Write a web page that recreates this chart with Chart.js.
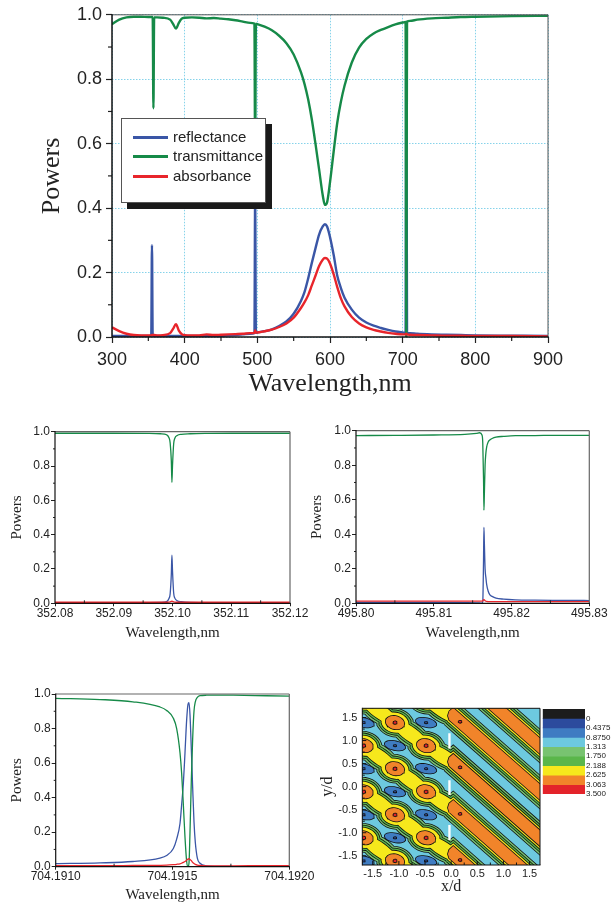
<!DOCTYPE html>
<html><head><meta charset="utf-8">
<script src="https://cdn.jsdelivr.net/npm/chart.js@4.4.1/dist/chart.umd.min.js"></script>
<style>
html,body{margin:0;padding:0;background:#fff;}
#wrap{position:relative;width:611px;height:905px;overflow:hidden;background:#fff;}
canvas{position:absolute;}
#lg{position:absolute;left:121px;top:118px;width:143px;height:83px;background:#fff;border:1px solid #555;box-shadow:6px 6px 0 #1a1a1a;font:15px 'Liberation Sans',Arial,sans-serif;color:#222;}
#lg .row{position:absolute;left:0;height:18px;line-height:18px;}
#lg .sw{position:absolute;left:11px;top:8px;width:35px;height:3px;}
#lg .tx{position:absolute;left:51px;top:0;white-space:nowrap;}
</style></head><body><div id="wrap">
<canvas id="cMain" style="left:0;top:0" width="611" height="400"></canvas>
<div id="lg"></div>
<canvas id="cP1" style="left:0;top:415px" width="320" height="230"></canvas>
<canvas id="cP2" style="left:300px;top:415px" width="311" height="230"></canvas>
<canvas id="cP3" style="left:0;top:680px" width="320" height="225"></canvas>
<canvas id="cCt" style="left:305px;top:680px" width="306" height="225"></canvas>
<canvas id="cCb" style="left:535px;top:700px" width="76" height="105"></canvas>
</div>
<script>
// ================= DATA =================
const seriesNames  = ['reflectance', 'transmittance', 'absorbance'];
const seriesColors = ['#3a56a6', '#168a48', '#e8252b'];

// --- main spectrum 300-900 nm ---
const mainWl = [300,310,320,330,340,350,354,355,356,357,358,362,370,380,384,388,392,396,400,410,420,430,440,450,460,470,480,490,496,497,498,500,510,520,530,540,550,560,565,570,575,580,585,590,593,596,600,605,610,615,620,630,640,650,660,670,680,690,700,704,705,706,710,720,740,760,780,800,850,900];
const mainRefl = [.003,.003,.003,.003,.003,.003,.003,.285,.003,.003,.003,.003,.003,.003,.003,.003,.003,.003,.003,.003,.003,.003,.003,.004,.005,.006,.008,.010,.012,.44,.013,.014,.018,.024,.034,.048,.072,.112,.14,.182,.23,.275,.318,.343,.35,.343,.31,.255,.19,.152,.122,.085,.06,.045,.035,.028,.022,.017,.014,.013,.95,.013,.012,.010,.008,.007,.006,.005,.004,.003];
const mainTrans = [.971,.985,.992,.994,.994,.993,.993,.993,.993,.71,.992,.992,.991,.985,.972,.957,.975,.988,.991,.992,.991,.989,.990,.988,.986,.983,.979,.975,.973,.54,.972,.971,.963,.952,.935,.912,.877,.822,.785,.737,.675,.60,.52,.44,.41,.418,.48,.575,.665,.73,.78,.852,.898,.925,.942,.953,.962,.970,.976,.978,0,.979,.981,.985,.989,.991,.993,.994,.996,.997];
const mainAbs = [.030,.018,.010,.006,.005,.005,.005,.006,.006,.006,.006,.005,.006,.012,.025,.040,.020,.009,.006,.005,.005,.008,.006,.007,.008,.009,.010,.012,.013,.020,.014,.014,.018,.023,.031,.042,.060,.090,.108,.130,.160,.190,.220,.240,.245,.243,.228,.195,.155,.120,.095,.062,.042,.030,.022,.017,.013,.010,.008,.008,.010,.008,.007,.006,.005,.004,.004,.003,.003,.002];
const mainXTicks = [300,400,500,600,700,800,900];
const mainXMinor = [350,450,550,650,750,850];
const powerTicks = [0,0.2,0.4,0.6,0.8,1.0];
const powerMinor = [0.1,0.3,0.5,0.7,0.9];

// --- zoom 1: 352.08-352.12 nm ---
const p1Wl    = [352.080,352.090,352.096,352.098,352.099,352.0994,352.0996,352.0998,352.0999,352.1000,352.1002,352.1004,352.1008,352.1015,352.103,352.106,352.110,352.120];
const p1Trans = [.991,.991,.990,.988,.982,.965,.935,.83,.705,.80,.93,.962,.978,.985,.988,.990,.991,.991];
const p1Refl  = [.003,.003,.004,.005,.010,.028,.055,.17,.28,.19,.06,.03,.015,.009,.005,.004,.003,.003];
const p1Abs   = [.006,.006,.006,.006,.006,.007,.008,.011,.013,.011,.008,.007,.006,.006,.006,.006,.006,.006];
const p1Ticks = [352.08,352.09,352.10,352.11,352.12];
const p1Minor = [352.085,352.095,352.105,352.115];

// --- zoom 2: 495.80-495.83 nm ---
const p2Wl    = [495.800,495.805,495.810,495.814,495.8155,495.8159,495.8162,495.8163,495.8164,495.81645,495.8165,495.8166,495.8167,495.8168,495.8170,495.8172,495.8175,495.818,495.819,495.8205,495.823,495.826,495.830];
const p2Trans = [.972,.973,.975,.979,.985,.988,.975,.93,.72,.54,.62,.80,.87,.905,.935,.946,.955,.963,.967,.971,.972,.973,.973];
const p2Refl  = [.005,.005,.005,.004,.003,.002,.001,.010,.25,.44,.36,.20,.15,.11,.07,.05,.04,.03,.024,.020,.018,.017,.016];
const p2Abs   = [.013,.013,.013,.013,.013,.013,.013,.014,.020,.022,.020,.015,.012,.011,.010,.010,.010,.010,.010,.010,.010,.010,.010];
const p2Ticks = [495.80,495.81,495.82,495.83];
const p2Minor = [495.805,495.815,495.825];

// --- zoom 3: 704.1910-704.1920 nm ---
const p3Wl    = [704.19100,704.19119,704.19133,704.191446,704.191475,704.1915036,704.1915178,704.1915321,704.1915392,704.1915464,704.1915535,704.1915606,704.1915663,704.1915706,704.1915749,704.1915806,704.1915863,704.191592,704.1915977,704.1916063,704.1916177,704.1916462,704.191689,704.1917603,704.191903,704.19200];
const p3Trans = [.975,.968,.955,.925,.905,.86,.80,.66,.54,.36,.17,.03,.0,.02,.20,.50,.74,.90,.955,.98,.99,.993,.994,.993,.990,.988];
const p3Refl  = [.018,.022,.030,.050,.065,.105,.16,.25,.36,.48,.66,.85,.94,.95,.88,.68,.46,.26,.14,.05,.02,.005,.002,.001,0,0];
const p3Abs   = [.006,.006,.007,.008,.009,.012,.014,.017,.020,.025,.030,.038,.044,.046,.042,.035,.025,.018,.013,.009,.007,.005,.005,.005,.006,.006];
const p3Ticks = [704.1910,704.1915,704.1920];
const p3Minor = [704.19125,704.19175];

// --- field map (x/d, y/d) ---
const ctrLabels = ['0','0.4375','0.8750','1.313','1.750','2.188','2.625','3.063','3.500'];
const ctrColors = ['#1c1c1c','#2c4b9d','#3f7cc2','#6dc9df','#78c370','#5ab64a','#f6e81c','#f1842a','#e3232a'];
const ctrTicks  = [-1.5,-1.0,-0.5,0.0,0.5,1.0,1.5];
const ctrMinor  = [-1.25,-0.75,-0.25,0.25,0.75,1.25];
// transmitted diagonal fringes: centre lines x+y = c, half widths (in x+y) per level
const bandCentres   = [-3.42,-2.42,-1.42,-0.42,0.58,1.58,2.58];
const bandStartX    = 0.04;
const bandHalfWidth = {lightgreen:0.355, green:0.29, yellow:0.23, orange:0.17};
const bandDots      = [[0.17,1.41],[0.17,0.42],[0.17,-0.59],[0.17,-1.59]];
// incidence side: chains of intensity maxima (wavy bright fringes) joining the transmitted fringes
const hotChains = [
  [[-2.275,3.39],[-1.675,2.89],[-1.075,2.39],[-0.48,1.89],[0.17,1.42]],
  [[-2.275,2.39],[-1.675,1.89],[-1.075,1.39],[-0.48,0.89],[0.17,0.42]],
  [[-2.275,1.39],[-1.675,0.89],[-1.075,0.39],[-0.48,-0.11],[0.17,-0.58]],
  [[-2.275,0.39],[-1.675,-0.11],[-1.075,-0.61],[-0.48,-1.11],[0.17,-1.58]],
  [[-2.275,-0.61],[-1.675,-1.11],[-1.075,-1.61],[-0.48,-2.11],[0.17,-2.58]]
];
const hotSpotRadii = {lightgreen:[0.35,0.30], green:[0.31,0.26], yellow:[0.265,0.215], orange:[0.18,0.14], red:[0.032,0.027]};
const neckMinor    = {lightgreen:0.24, green:0.19, yellow:0.145};
const hotTilt  = -0.35;
// intensity minima (blue islands)
const coldSpots = [[-1.675,1.39],[-1.675,0.39],[-1.675,-0.61],[-1.675,-1.61],[-1.075,1.89],[-1.075,0.89],[-1.075,-0.11],[-1.075,-1.11],[-0.48,1.39],[-0.48,0.39],[-0.48,-0.61],[-0.48,-1.61]];
const coldRadii = {blue:[0.2,0.095], darkblue:[0.025,0.014]};
const coldTilt  = -0.25;
const slitX = [-0.055,-0.01];
const slitY = [[0.83,1.16],[-0.18,0.14],[-1.16,-0.83]];

// ================= HELPERS =================
Chart.defaults.font.family = "'Liberation Sans', Arial, Helvetica, sans-serif";
Chart.defaults.color = '#222';
Chart.defaults.animation = false;
const SERIF = "'Liberation Serif', 'Times New Roman', serif";

const decor = {
  id: 'decor',
  afterDatasetsDraw(chart, args, o) {
    if (!o || !o.on) return;
    const {ctx, chartArea: a, scales: {x, y}} = chart;
    ctx.save();
    ctx.lineCap = 'butt';
    const seg = (x1, y1, x2, y2, c, w) => { ctx.strokeStyle = c; ctx.lineWidth = w; ctx.beginPath(); ctx.moveTo(x1, y1); ctx.lineTo(x2, y2); ctx.stroke(); };
    const tw = o.tickWidth || 1, tc = o.tickColor || '#222';
    (o.xMinor || []).forEach(v => { const p = x.getPixelForValue(v); seg(p, a.bottom, p, a.bottom + o.xMinorLen, tc, tw); });
    (o.xMajorIn ? o.xMajor : []).forEach(v => { const p = x.getPixelForValue(v); seg(p, a.bottom, p, a.bottom - o.xMajorIn, tc, tw); });
    (o.yMinor || []).forEach(v => { const p = y.getPixelForValue(v); seg(a.left, p, a.left - o.yMinorLen, p, tc, tw); });
    (o.yMajorIn ? o.yMajor : []).forEach(v => { const p = y.getPixelForValue(v); seg(a.left, p, a.left + o.yMajorIn, p, tc, tw); });
    const f = o.frame;
    seg(a.left, a.top, a.right, a.top, f.top, f.wt);
    seg(a.right, a.top, a.right, a.bottom, f.right, f.wt);
    seg(a.left, a.bottom, a.right + f.wt / 2, a.bottom, f.bottom, f.wb);
    seg(a.left, a.top - f.wt / 2, a.left, a.bottom + f.wb / 2, f.left, f.wb);
    ctx.restore();
  }
};
Chart.register(decor);

function fixTicks(vals) { return function (scale) { scale.ticks = vals.map(v => ({value: v})); }; }

function spectrumChart(id, cfg) {
  const mk = (vals, i, order) => ({
    label: seriesNames[i],
    data: cfg.wl.map((w, k) => ({x: w, y: vals[k]})),
    borderColor: seriesColors[i], backgroundColor: seriesColors[i],
    borderWidth: cfg.lw, pointRadius: 0, fill: false,
    cubicInterpolationMode: 'monotone', order: order
  });
  return new Chart(document.getElementById(id), {
    type: 'line',
    data: {datasets: [mk(cfg.refl, 0, 3), mk(cfg.trans, 1, 2), mk(cfg.abs, 2, 1)]},
    options: {
      responsive: false, animation: false, devicePixelRatio: 1,
      layout: {padding: cfg.pad},
      plugins: {legend: {display: false}, tooltip: {enabled: false},
        decor: {on: true, xMinor: cfg.xMinor, xMinorLen: cfg.xMinorLen, yMinor: powerMinor, yMinorLen: cfg.yMinorLen,
          tickColor: '#222', tickWidth: cfg.tickW, frame: cfg.frame}},
      scales: {
        x: {type: 'linear', min: cfg.xTicks[0], max: cfg.xTicks[cfg.xTicks.length - 1],
          afterBuildTicks: fixTicks(cfg.xTicks),
          afterFit: s => { s.height = cfg.xH; },
          border: {display: false, dash: cfg.gridDash},
          grid: {drawOnChartArea: cfg.gridOn, color: cfg.gridColor, lineWidth: 1, drawTicks: true, tickLength: cfg.xTickLen, tickColor: '#222', tickWidth: cfg.tickW},
          ticks: {maxRotation: 0, autoSkip: false, padding: cfg.xPad, font: {size: cfg.tickFont}, color: '#222', callback: v => v.toFixed(cfg.xDec)},
          title: {display: true, text: 'Wavelength,nm', font: {family: SERIF, size: cfg.titleFont}, color: '#222', padding: {top: 0, bottom: cfg.xTitlePad}}
        },
        y: {type: 'linear', min: 0, max: 1,
          afterBuildTicks: fixTicks(powerTicks),
          afterFit: s => { s.width = cfg.yW; },
          border: {display: false, dash: cfg.gridDash},
          grid: {drawOnChartArea: cfg.gridOn, color: cfg.gridColor, lineWidth: 1, drawTicks: true, tickLength: cfg.yTickLen, tickColor: '#222', tickWidth: cfg.tickW},
          ticks: {padding: cfg.yPad, font: {size: cfg.tickFont}, color: '#222', callback: v => v.toFixed(1)},
          title: {display: true, text: 'Powers', font: {family: SERIF, size: cfg.titleFont}, color: '#222', padding: {top: cfg.yTitlePad, bottom: 0}}
        }
      }
    }
  });
}

// ================= MAIN =================
spectrumChart('cMain', {
  wl: mainWl, refl: mainRefl, trans: mainTrans, abs: mainAbs, lw: 2.4,
  pad: {left: 0, right: 63, top: 14, bottom: 0}, xH: 63, yW: 112,
  xTicks: mainXTicks, xMinor: mainXMinor, xMinorLen: 4, yMinorLen: 4, xTickLen: 6, yTickLen: 6, tickW: 1.2,
  xPad: 6, yPad: 4, xDec: 0, tickFont: 18, titleFont: 26, xTitlePad: 0, yTitlePad: 37,
  gridOn: true, gridColor: '#86d3ea', gridDash: [1.5, 1.5],
  frame: {top: '#555', right: '#555', bottom: '#111', left: '#111', wt: 1, wb: 1.5}
});
(function () {
  const lg = document.getElementById('lg');
  seriesNames.forEach((n, i) => {
    const r = document.createElement('div'); r.className = 'row'; r.style.top = (9 + i * 19.3) + 'px';
    r.innerHTML = '<div class="sw" style="background:' + seriesColors[i] + '"></div><div class="tx">' + n + '</div>';
    lg.appendChild(r);
  });
})();

const smallFrame = {top: '#666', right: '#666', bottom: '#111', left: '#111', wt: 1.2, wb: 1.2};
spectrumChart('cP1', {
  wl: p1Wl, refl: p1Refl, trans: p1Trans, abs: p1Abs, lw: 1.3,
  pad: {left: 0, right: 30, top: 16.7, bottom: 0}, xH: 41.7, yW: 55,
  xTicks: p1Ticks, xMinor: p1Minor, xMinorLen: -3, yMinorLen: 2, xTickLen: 3, yTickLen: 4, tickW: 1,
  xPad: 0, yPad: 1, xDec: 2, tickFont: 12, titleFont: 15, xTitlePad: 3, yTitlePad: 8,
  gridOn: false, gridColor: '#222', gridDash: [], frame: smallFrame
});
spectrumChart('cP2', {
  wl: p2Wl, refl: p2Refl, trans: p2Trans, abs: p2Abs, lw: 1.3,
  pad: {left: 0, right: 21.7, top: 15.7, bottom: 0}, xH: 41.7, yW: 56,
  xTicks: p2Ticks, xMinor: p2Minor, xMinorLen: -3, yMinorLen: 2, xTickLen: 3, yTickLen: 4, tickW: 1,
  xPad: 0, yPad: 1, xDec: 2, tickFont: 12, titleFont: 15, xTitlePad: 3, yTitlePad: 8,
  gridOn: false, gridColor: '#222', gridDash: [], frame: smallFrame
});
spectrumChart('cP3', {
  wl: p3Wl, refl: p3Refl, trans: p3Trans, abs: p3Abs, lw: 1.3,
  pad: {left: 0, right: 30.7, top: 14, bottom: 0}, xH: 38.3, yW: 55.7,
  xTicks: p3Ticks, xMinor: p3Minor, xMinorLen: -3, yMinorLen: 2, xTickLen: 3, yTickLen: 4, tickW: 1,
  xPad: 0, yPad: 1, xDec: 4, tickFont: 12, titleFont: 15, xTitlePad: 1, yTitlePad: 8,
  gridOn: false, gridColor: '#222', gridDash: [], frame: smallFrame
});

// ================= FIELD MAP =================
function ellipsePts(cx, cy, rx, ry, ang) {
  const ca = Math.cos(ang), sa = Math.sin(ang), pts = [];
  for (let k = 0; k <= 32; k++) {
    const t = k / 32 * 2 * Math.PI, ex = rx * Math.cos(t), ey = ry * Math.sin(t);
    pts.push({x: cx + ex * ca - ey * sa, y: cy + ex * sa + ey * ca});
  }
  return pts;
}
function bandPts(c, w, xl) {
  const p = [];
  p.push({x: xl, y: c - w - xl});
  p.push({x: 2.4, y: c - w - 2.4});
  p.push({x: 2.4, y: c + w - 2.4});
  p.push({x: xl, y: c + w - xl});
  p.push({x: xl - 0.45 * w, y: c - xl + 0.55 * w});
  p.push({x: xl - 0.6 * w, y: c - xl});
  p.push({x: xl - 0.45 * w, y: c - xl - 0.55 * w});
  p.push({x: xl, y: c - w - xl});
  return p;
}
function joinPolys(polys) {
  const out = [];
  polys.forEach((p, i) => { if (i) out.push({x: null, y: null}); p.forEach(q => out.push(q)); });
  return out;
}
const lvl = {darkblue: 1, blue: 2, cyan: 3, lightgreen: 4, green: 5, yellow: 6, orange: 7, red: 8};
const ctrSets = [];
let ordSeq = 1000;
function addRaw(polys, color, bw) {
  ctrSets.push({data: joinPolys(polys), showLine: bw > 0, spanGaps: false, tension: 0, pointRadius: 0,
    fill: 'shape', backgroundColor: color, borderColor: '#111', borderWidth: bw, order: ordSeq--});
}
// union of shapes: outlined copy first, then a plain copy on top hides inner outlines
function addLevel(polys, level) {
  addRaw(polys, ctrColors[lvl[level]], 1.6);
  addRaw(polys, ctrColors[lvl[level]], 0);
}
addRaw([[{x:-2,y:-2},{x:2,y:-2},{x:2,y:2},{x:-2,y:2},{x:-2,y:-2}]], ctrColors[lvl.cyan], 0);
['lightgreen', 'green', 'yellow', 'orange'].forEach(L => {
  const polys = bandCentres.map(c => bandPts(c, bandHalfWidth[L], bandStartX));
  hotChains.forEach(ch => {
    for (let i = 1; i < ch.length - 1; i++) polys.push(ellipsePts(ch[i][0], ch[i][1], hotSpotRadii[L][0], hotSpotRadii[L][1], hotTilt));
    if (neckMinor[L]) {
      for (let i = 0; i < ch.length - 1; i++) {
        const a = ch[i], b = ch[i + 1], dx = b[0] - a[0], dy = b[1] - a[1];
        polys.push(ellipsePts((a[0] + b[0]) / 2, (a[1] + b[1]) / 2, Math.hypot(dx, dy) * 0.55, neckMinor[L], Math.atan2(dy, dx)));
      }
    }
  });
  addLevel(polys, L);
});
const redPolys = [];
hotChains.forEach(ch => { for (let i = 1; i < ch.length - 1; i++) redPolys.push(ellipsePts(ch[i][0], ch[i][1], hotSpotRadii.red[0], hotSpotRadii.red[1], 0)); });
bandDots.forEach(s => redPolys.push(ellipsePts(s[0], s[1], 0.028, 0.02, 0)));
addLevel(redPolys, 'red');
addLevel(coldSpots.map(s => ellipsePts(s[0], s[1], coldRadii.blue[0], coldRadii.blue[1], coldTilt)), 'blue');
addLevel(coldSpots.map(s => ellipsePts(s[0], s[1], coldRadii.darkblue[0], coldRadii.darkblue[1], 0)), 'darkblue');
addRaw(slitY.map(r => [{x:slitX[0],y:r[0]},{x:slitX[1],y:r[0]},{x:slitX[1],y:r[1]},{x:slitX[0],y:r[1]},{x:slitX[0],y:r[0]}]), '#ffffff', 0);

new Chart(document.getElementById('cCt'), {
  type: 'line',
  data: {datasets: ctrSets},
  options: {
    responsive: false, animation: false, devicePixelRatio: 1,
    layout: {padding: {left: 0, right: 71, top: 28.3, bottom: 0}},
    plugins: {legend: {display: false}, tooltip: {enabled: false},
      decor: {on: true, xMinor: ctrMinor, xMinorLen: -2.5, yMinor: ctrMinor, yMinorLen: -2.5,
        xMajor: ctrTicks, xMajorIn: 4, yMajor: ctrTicks, yMajorIn: 4, tickColor: '#111', tickWidth: 1,
        frame: {top: '#111', right: '#111', bottom: '#111', left: '#111', wt: 1, wb: 1}}},
    scales: {
      x: {type: 'linear', min: -1.7, max: 1.7, afterBuildTicks: fixTicks(ctrTicks), afterFit: s => { s.height = 40; },
        border: {display: false}, grid: {display: false, drawTicks: false, tickLength: 0},
        ticks: {padding: 2, maxRotation: 0, autoSkip: false, font: {size: 11}, color: '#222', callback: v => v.toFixed(1)},
        title: {display: true, text: 'x/d', font: {family: SERIF, size: 16}, color: '#222', padding: {top: 0, bottom: 9}}},
      y: {type: 'linear', min: -1.7, max: 1.7, afterBuildTicks: fixTicks(ctrTicks), afterFit: s => { s.width = 57.3; },
        border: {display: false}, grid: {display: false, drawTicks: false, tickLength: 0},
        ticks: {padding: 5, autoSkip: false, font: {size: 11}, color: '#222', callback: v => v.toFixed(1)},
        title: {display: true, text: 'y/d', font: {family: SERIF, size: 16}, color: '#222', padding: {top: 13, bottom: 0}}}
    }
  }
});

// colour bar
new Chart(document.getElementById('cCb'), {
  type: 'bar',
  data: {labels: [''], datasets: ctrColors.map((c, i) => ({label: ctrLabels[i], data: [1], backgroundColor: c, borderWidth: 0, barPercentage: 1, categoryPercentage: 1}))},
  options: {
    responsive: false, animation: false, devicePixelRatio: 1,
    layout: {padding: {left: 7.7, right: 0, top: 9, bottom: 11}},
    plugins: {legend: {display: false}, tooltip: {enabled: false}},
    scales: {
      x: {display: false, stacked: true},
      y: {stacked: true, position: 'right', reverse: true, min: 0, max: 9,
        afterBuildTicks: fixTicks([1,2,3,4,5,6,7,8,9]), afterFit: s => { s.width = 26; },
        border: {display: false}, grid: {display: false, drawTicks: false, tickLength: 0},
        ticks: {padding: 1, autoSkip: false, font: {size: 8}, color: '#222', callback: v => ctrLabels[Math.round(v) - 1]}}
    }
  }
});
</script>
</body></html>
